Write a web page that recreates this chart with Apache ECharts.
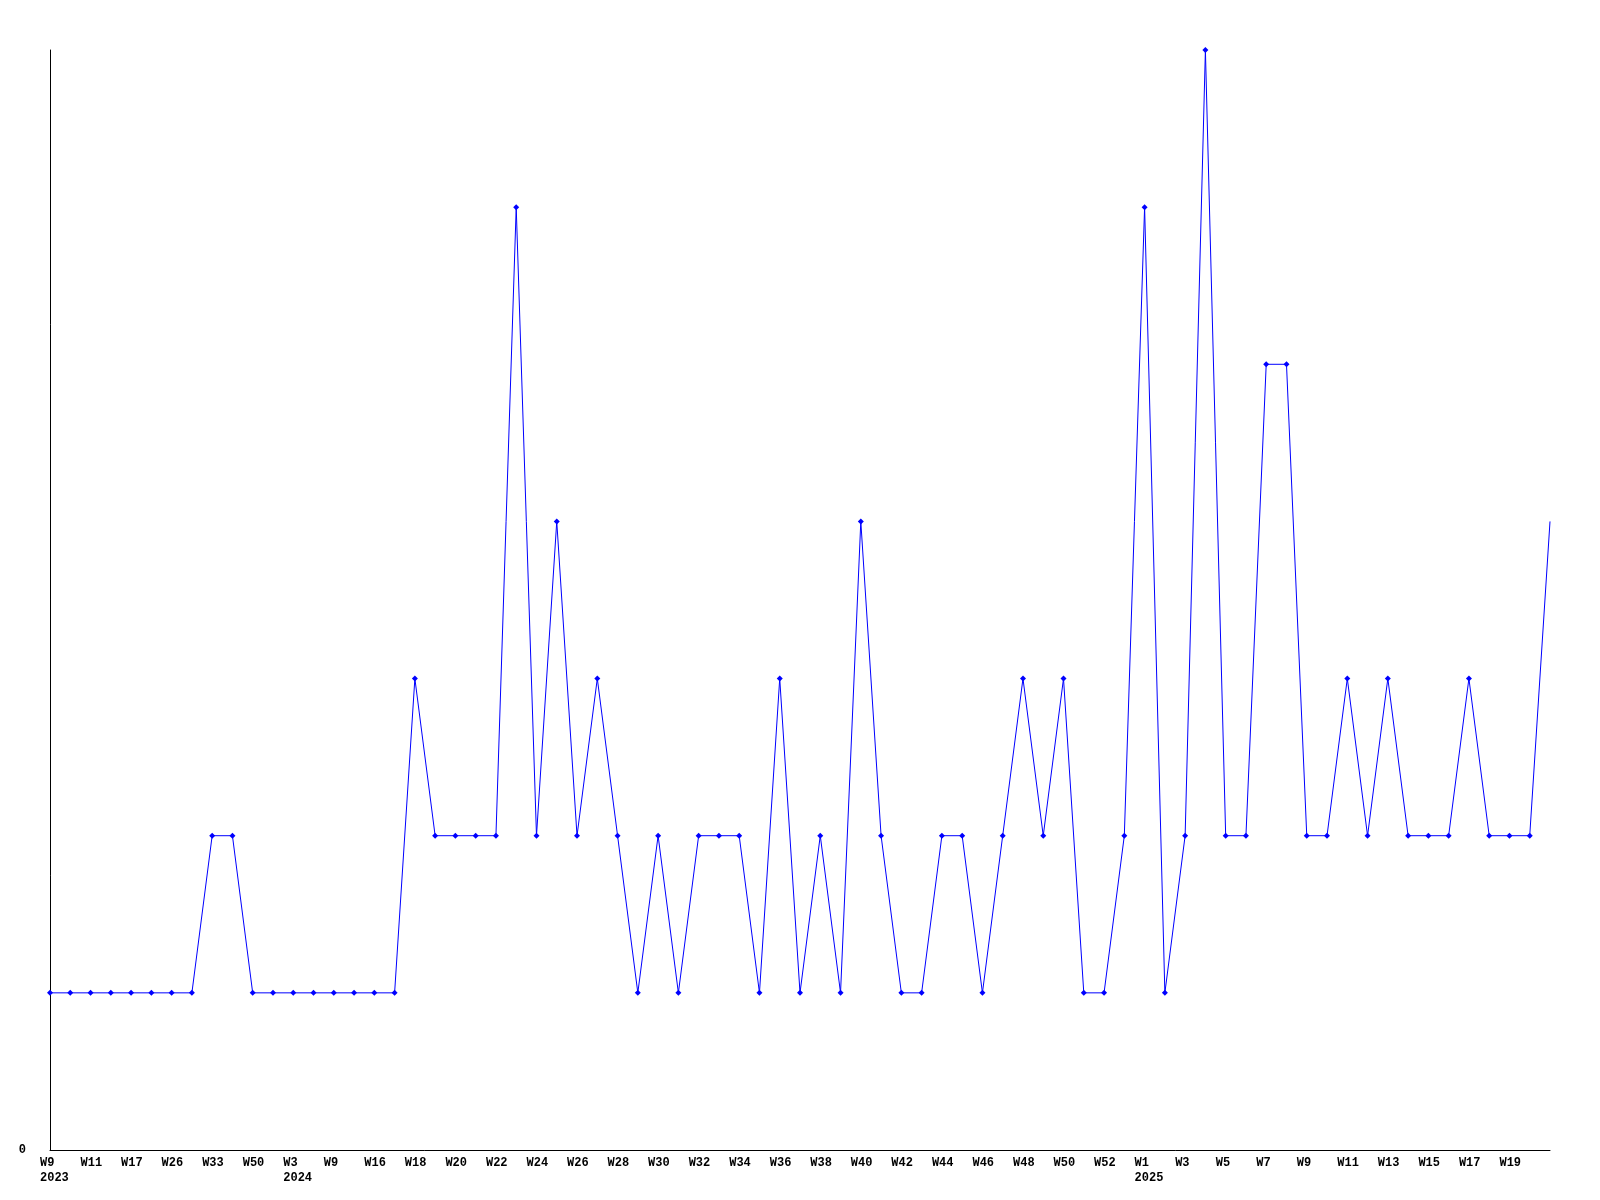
<!DOCTYPE html>
<html>
<head>
<meta charset="utf-8">
<script src="https://cdn.jsdelivr.net/npm/echarts@6/dist/echarts.min.js"></script>
<style>html,body{margin:0;padding:0;background:#fff}#c{width:1600px;height:1200px}</style>
</head>
<body>
<div id="c"></div>
<script>
const weeks = ["W9","W10","W11","W14","W17","W22","W26","W30","W33","W41","W50","W52",
  "W3","W6","W9","W13","W16","W17","W18","W19","W20","W21","W22","W23","W24","W25","W26","W27","W28","W29",
  "W30","W31","W32","W33","W34","W35","W36","W37","W38","W39","W40","W41","W42","W43","W44","W45","W46","W47",
  "W48","W49","W50","W51","W52","W53",
  "W1","W2","W3","W4","W5","W6","W7","W8","W9","W10","W11","W12","W13","W14","W15","W16","W17","W18","W19","W20","W21"];
const yearMarks = {0: "2023", 12: "2024", 54: "2025"};
const counts = [1,1,1,1,1,1,1,1,2,2,1,1,1,1,1,1,1,1,3,2,2,2,2,6,2,4,2,3,2,1,
  2,1,2,2,2,1,3,1,2,1,4,2,1,1,2,2,1,2,3,2,3,1,1,2,6,1,2,7,2,2,
  5,5,2,2,3,2,3,2,2,2,3,2,2,2,4];
const yTicks = [0, 7];

const chart = echarts.init(document.getElementById('c'), null, {renderer: 'canvas'});
const lastIdx = counts.length - 1;
chart.setOption({
  animation: false,
  backgroundColor: '#ffffff',
  grid: {left: 50, right: 50, top: 50, bottom: 50, containLabel: false},
  xAxis: {
    type: 'category',
    data: weeks,
    boundaryGap: false,
    axisLine: {show: true, lineStyle: {color: '#000', width: 1}},
    axisTick: {show: false},
    splitLine: {show: false},
    axisLabel: {
      interval: (i) => i % 2 === 0 && i < lastIdx,
      align: 'left',
      padding: [0, 0, 0, -10],
      margin: 5,
      lineHeight: 15,
      fontFamily: '"Liberation Mono", "DejaVu Sans Mono", monospace',
      fontWeight: 'bold',
      fontSize: 12,
      color: '#000',
      formatter: (v, i) => yearMarks[i] ? v + '\n' + yearMarks[i] : v
    }
  },
  yAxis: {
    type: 'value',
    min: yTicks[0],
    max: yTicks[1],
    interval: 7,
    axisLine: {show: true, lineStyle: {color: '#000', width: 1}},
    axisTick: {show: false},
    splitLine: {show: false},
    axisLabel: {
      margin: 24,
      fontFamily: '"Liberation Mono", "DejaVu Sans Mono", monospace',
      fontWeight: 'bold',
      fontSize: 12,
      color: '#000',
      formatter: (v) => v === 0 ? '0' : ''
    }
  },
  series: [{
    type: 'line',
    data: counts.map((v, i) => i === lastIdx ? {value: v, symbolSize: 0} : v),
    symbol: 'diamond',
    symbolSize: 6,
    showAllSymbol: true,
    clip: false,
    lineStyle: {color: '#0000ff', width: 1},
    itemStyle: {color: '#0000ff', borderWidth: 0}
  }]
});
</script>
</body>
</html>
